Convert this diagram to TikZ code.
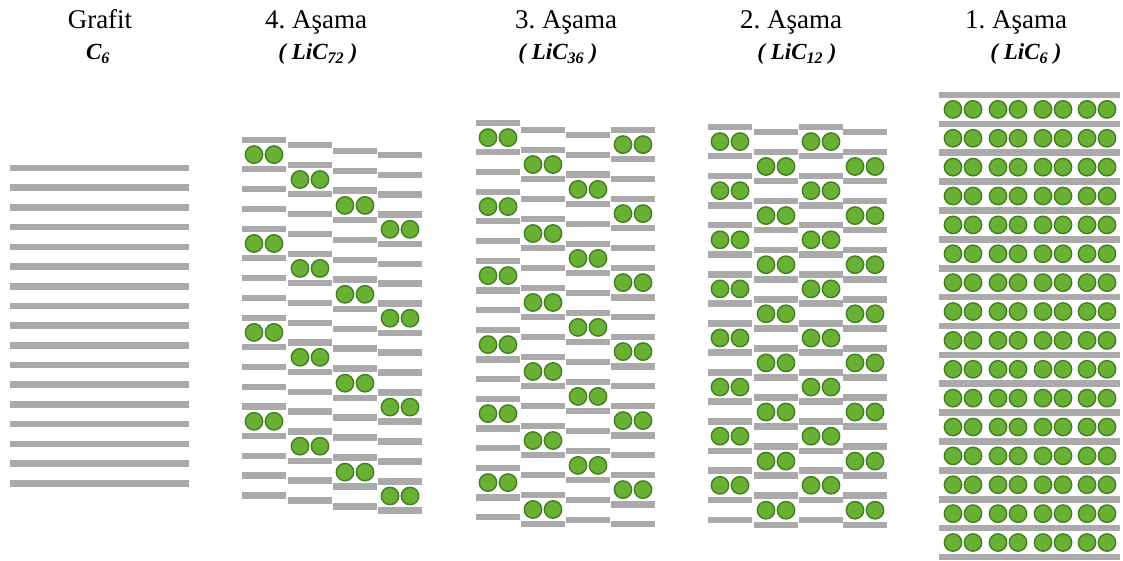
\documentclass[tikz,border=0pt]{standalone}
\usepackage{fontspec}
\setmainfont{Liberation Serif}
\usepackage{xcolor}
\usepackage{tikz}
\definecolor{layergray}{RGB}{170,170,170}
\definecolor{ligreen}{RGB}{106,176,52}
\definecolor{lidark}{RGB}{62,128,30}
\frenchspacing

% one column of graphene sheets: left x, top y, period, phase, number of gaps
% every period-th gap is widened and holds two Li ions
\newcommand\layercol[5]{%
  \foreach \k in {0,...,#5} {
    \pgfmathsetmacro\yy{#2+\k*19.9+floor((\k+#3-1-#4)/#3)*9.3}
    \fill[layer] (#1,\yy-3.3) rectangle ++(44,6.6);
    \pgfmathtruncatemacro\isli{and(mod(\k+#3-#4,#3)==0,\k<#5)}
    \ifnum\isli=1
      \filldraw[ion] (#1+12,\yy+14.6) circle (8.7pt);
      \filldraw[ion] (#1+32,\yy+14.6) circle (8.7pt);
    \fi
  }%
}

\begin{document}
\begin{tikzpicture}[x=1pt, y=-1pt,
  layer/.style={fill=layergray},
  ion/.style={fill=ligreen, draw=lidark, line width=1.4pt},
  stagetitle/.style={anchor=base, font=\fontsize{27}{30}\selectfont},
  formula/.style={anchor=base, font=\fontsize{23}{26}\selectfont\bfseries\itshape}]
\useasboundingbox (0,0) rectangle (1123,561);

% Titles
\node[stagetitle] (t0) at (100,29) {Grafit};
\node[formula] (f0) at (98,60) {C\textsubscript{6}};
\node[stagetitle] (t4) at (316,29) {4. Aşama};
\node[formula] (f4) at (318,60) {( LiC\textsubscript{72} )};
\node[stagetitle] (t3) at (566,29) {3. Aşama};
\node[formula] (f3) at (558,60) {( LiC\textsubscript{36} )};
\node[stagetitle] (t2) at (791,29) {2. Aşama};
\node[formula] (f2) at (797,60) {( LiC\textsubscript{12} )};
\node[stagetitle] (t1) at (1016,29) {1. Aşama};
\node[formula] (f1) at (1026,60) {( LiC\textsubscript{6} )};

% Graphite: plain stack
\foreach \k in {0,...,16} {
  \fill[layer] (10,168+\k*19.7-3.3) rectangle ++(179,6.6);
}

% Stage 4
\layercol{242}{140}{4}{0}{16}
\layercol{288}{145}{4}{1}{16}
\layercol{333}{151}{4}{2}{16}
\layercol{378}{155}{4}{3}{16}

% Stage 3
\layercol{476}{123}{3}{0}{17}
\layercol{521}{130}{3}{1}{17}
\layercol{566}{135}{3}{2}{17}
\layercol{611}{130}{3}{0}{17}

% Stage 2
\layercol{708}{127}{2}{0}{16}
\layercol{754}{132}{2}{1}{16}
\layercol{799}{127}{2}{0}{16}
\layercol{843}{132}{2}{1}{16}

% Stage 1: every gap filled
\foreach \k in {0,...,16} {
  \fill[layer] (939,95+\k*28.875-3.3) rectangle ++(181,6.6);
}
\foreach \k in {0,...,15} {
  \foreach \cx in {953,973,998,1018,1043,1063,1087,1107} {
    \filldraw[ion] (\cx,95+\k*28.875+14.4) circle (8.7pt);
  }
}
\end{tikzpicture}
\end{document}
